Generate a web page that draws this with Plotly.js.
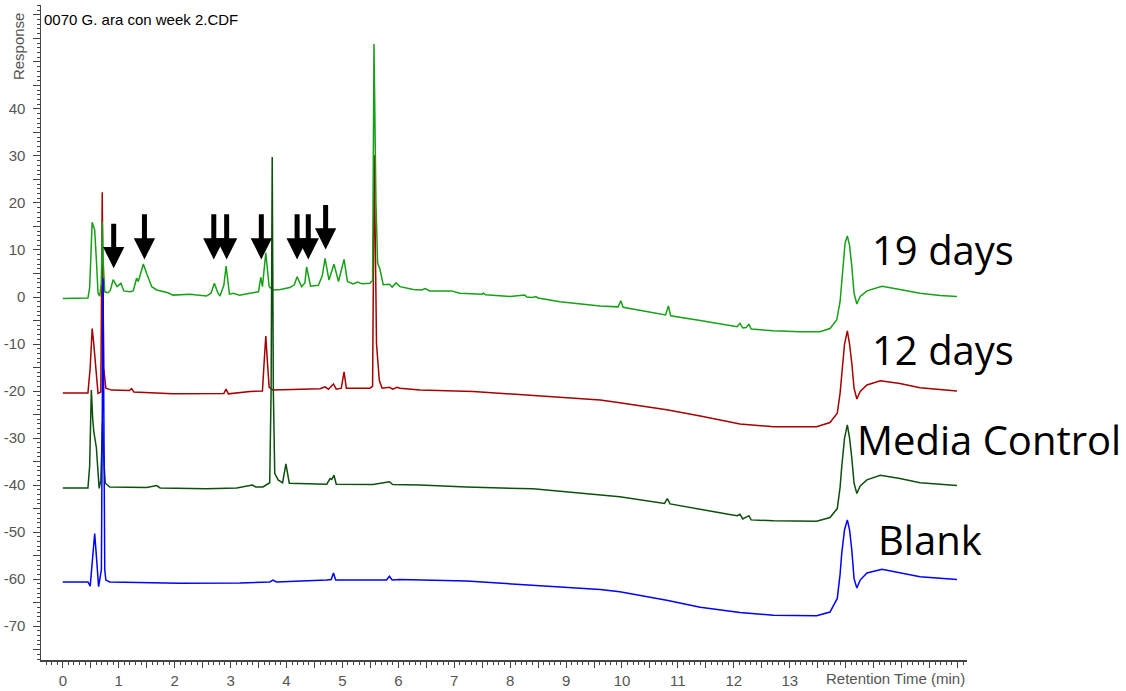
<!DOCTYPE html>
<html>
<head>
<meta charset="utf-8">
<script src="https://cdn.plot.ly/plotly-3.0.1.min.js"></script>
<style>html,body{margin:0;padding:0;background:#fff;}#chart{width:1126px;height:691px;}</style>
</head>
<body>
<div id="chart"></div>
<script>
// ---- Data (retention time in min, response) ----
const tGreen = [0,0.45,0.48,0.51,0.525,0.555,0.57,0.6,0.63,0.66,0.69,0.705,0.72,0.75,0.81,0.85,0.9,0.97,1.04,1.09,1.2,1.26,1.32,1.35,1.44,1.5,1.59,1.68,1.88,1.97,2.27,2.57,2.65,2.71,2.77,2.81,2.88,2.92,2.96,2.98,3.05,3.16,3.35,3.5,3.54,3.57,3.63,3.69,3.76,3.89,4.06,4.14,4.19,4.27,4.33,4.36,4.43,4.57,4.64,4.69,4.76,4.85,4.93,5.03,5.09,5.19,5.27,5.35,5.49,5.54,5.565,5.6,5.63,5.67,5.73,5.84,5.89,5.96,6.03,6.27,6.42,6.48,6.56,6.8,6.95,7.1,7.5,7.52,7.56,8.0,8.26,8.3,8.4,8.46,8.5,8.89,9.49,9.61,9.93,9.98,10.02,10.44,10.78,10.83,10.87,11.4,12.06,12.11,12.16,12.22,12.27,12.31,12.71,13.18,13.54,13.72,13.84,13.9,13.95,13.99,14.03,14.07,14.11,14.15,14.2,14.26,14.38,14.65,14.97,15.33,15.69,15.99];
const vGreen = [-0.3,-0.2,2.0,15.0,15.9,14.8,14.2,8.0,0.8,0.2,3.0,16.0,8.0,1.1,0.9,1.4,3.7,2.2,2.9,1.3,1.1,1.3,4.0,3.3,7.0,5.0,2.2,1.5,0.9,0.4,0.6,0.2,0.8,2.9,1.0,0.2,2.5,6.6,1.5,0.6,0.8,0.4,0.8,1.1,4.2,2.2,9.4,2.2,1.5,1.6,2.0,2.6,4.3,2.2,3.0,6.4,2.3,2.5,4.5,8.2,3.6,7.0,3.3,8.0,3.3,2.8,3.2,2.8,2.9,3.5,53.8,20.0,7.2,6.0,2.6,2.7,2.1,3.0,2.2,1.6,1.5,1.8,1.3,1.3,1.3,0.8,0.6,0.8,0.5,0.1,0.4,0.0,-0.1,0.1,-0.2,-1.0,-1.7,-1.9,-2.1,-0.8,-2.2,-3.1,-3.8,-1.9,-4.0,-5.0,-6.3,-5.6,-6.6,-6.5,-5.8,-6.8,-7.2,-7.4,-7.4,-6.7,-4.9,-1.0,6.0,11.5,13.0,11.0,6.5,0.8,-1.5,0.1,1.3,2.3,1.6,0.8,0.3,0.1];

const tRed = [0,0.45,0.49,0.525,0.55,0.57,0.61,0.63,0.68,0.705,0.73,0.77,0.87,1.19,1.23,1.27,1.97,2.69,2.88,2.92,2.96,3.35,3.57,3.6,3.63,3.66,3.69,3.76,4.24,4.6,4.69,4.75,4.84,4.89,4.98,5.03,5.07,5.49,5.54,5.57,5.61,5.66,5.71,5.84,5.9,5.98,6.03,6.39,7.34,8.53,9.61,9.96,10.8,11.4,12.11,12.71,13.48,13.72,13.85,13.9,13.93,13.98,14.03,14.07,14.11,14.15,14.2,14.26,14.38,14.62,14.97,15.33,15.99];
const vRed = [-20.4,-20.4,-15.0,-6.7,-9.5,-12.7,-18.0,-20.5,-20.2,22.3,-15.0,-19.4,-19.8,-19.9,-19.5,-20.2,-20.6,-20.6,-20.5,-19.6,-20.6,-20.1,-20.0,-14.0,-8.3,-14.0,-19.2,-19.8,-19.6,-19.5,-19.1,-19.6,-18.5,-19.6,-19.4,-15.9,-19.4,-19.4,-19.0,30.2,-10.0,-17.7,-19.4,-19.2,-19.6,-19.2,-19.4,-19.8,-20.1,-21.1,-21.9,-22.5,-24.0,-25.3,-27.0,-27.6,-27.6,-26.7,-24.7,-20.5,-16.2,-10.0,-7.2,-10.0,-14.1,-19.4,-21.7,-20.1,-18.7,-17.8,-18.4,-19.3,-20.0];

const tMedia = [0,0.45,0.48,0.51,0.535,0.555,0.6,0.63,0.65,0.68,0.71,0.74,0.76,0.84,1.5,1.68,1.74,2.57,3.11,3.39,3.45,3.58,3.7,3.725,3.745,3.765,3.79,3.85,3.93,3.99,4.05,4.72,4.78,4.81,4.85,4.89,5.55,5.84,5.9,6.39,7.22,8.41,9.61,9.96,10.76,10.81,10.86,11.4,11.9,12.06,12.11,12.16,12.27,12.31,12.71,13.48,13.72,13.85,13.9,13.93,13.98,14.03,14.07,14.11,14.15,14.2,14.26,14.38,14.62,14.97,15.33,15.99];
const vMedia = [-40.6,-40.6,-36.0,-19.8,-26.0,-28.7,-32.0,-39.0,-40.7,-39.0,-26.7,-36.0,-39.6,-40.4,-40.5,-40.1,-40.6,-40.8,-40.6,-40.0,-40.4,-40.4,-39.5,-20.0,29.8,-20.0,-37.5,-38.9,-39.5,-35.5,-39.6,-39.8,-38.6,-38.8,-37.9,-39.8,-39.9,-39.3,-39.9,-40.0,-40.4,-40.8,-42.1,-42.5,-43.9,-42.9,-44.0,-45.2,-46.2,-46.5,-46.2,-47.2,-46.5,-47.4,-47.6,-47.7,-46.9,-45.0,-40.5,-36.1,-30.0,-27.2,-30.0,-34.3,-39.6,-41.8,-40.2,-38.9,-37.9,-38.6,-39.5,-40.1];

const tBlank = [0,0.45,0.49,0.535,0.57,0.6,0.64,0.69,0.72,0.75,0.77,0.84,2.09,3.17,3.7,3.76,3.82,4.72,4.8,4.84,4.88,5.79,5.84,5.89,6.03,7.22,8.41,9.61,9.96,10.8,11.4,12.11,12.71,13.48,13.72,13.85,13.9,13.93,13.98,14.03,14.07,14.11,14.15,14.2,14.26,14.38,14.65,14.97,15.33,15.99];
const vBlank = [-60.6,-60.6,-61.5,-55.0,-50.3,-55.0,-61.6,-58.0,4.0,-58.0,-60.2,-60.6,-60.9,-60.8,-60.6,-60.2,-60.6,-60.2,-60.1,-58.7,-60.2,-60.2,-59.4,-60.2,-60.1,-60.4,-61.3,-62.2,-62.7,-64.5,-66.0,-67.1,-67.7,-67.8,-67.0,-64.1,-59.0,-54.5,-49.5,-47.4,-49.5,-53.8,-59.9,-61.9,-60.2,-58.7,-57.9,-58.7,-59.5,-60.1];

const seriesNames = ['19 days','12 days','Media Control','Blank'];
const labelT = [14.44, 14.44, 14.16, 14.55];
const labelV = [10.0, -11.2, -30.2, -51.6];

// arrows marking peaks on the 19-day trace
const arrowT = [0.91, 1.46, 2.70, 2.93, 3.55, 4.19, 4.39, 4.70];
const arrowTipV = [6.1, 8.0, 8.0, 8.0, 8.0, 8.0, 8.0, 10.1];
const arrowTopV = [15.9, 17.9, 17.9, 17.9, 17.9, 17.9, 17.9, 19.9];

const xTickVals = [];
const xTickText = [];
for (let k = 0; k <= 32; k++) { const v = k / 2; xTickVals.push(v); xTickText.push((Number.isInteger(v) && v <= 13) ? String(v) : ''); }
const yTickVals = [];
const yTickText = [];
for (let v = -75; v <= 60; v += 5) { yTickVals.push(v); yTickText.push((v % 10 === 0 && v >= -70 && v <= 40) ? String(v) + '\u00a0' : ''); }

const axisFont = {family: 'Liberation Sans, Arial, sans-serif', size: 15, color: '#555'};
const labelFont = {family: 'Open Sans, sans-serif', size: 40, color: '#000'};

function tr(x, y, color) {
  return {x: x, y: y, type: 'scatter', mode: 'lines', line: {color: color, width: 1.5}, hoverinfo: 'skip'};
}
const traces = [
  tr(tRed, vRed, '#a50000'),
  tr(tGreen, vGreen, '#17a017'),
  tr(tMedia, vMedia, '#0d4f0d'),
  tr(tBlank, vBlank, '#0000ff')
];

const annotations = [];
seriesNames.forEach((s, i) => annotations.push({
  text: s, x: labelT[i], y: labelV[i], xref: 'x', yref: 'y', xanchor: 'left', yanchor: 'middle',
  showarrow: false, font: labelFont
}));
arrowT.forEach((t, i) => annotations.push({
  text: '', x: t, y: arrowTipV[i], ax: t, ay: arrowTopV[i], axref: 'x', ayref: 'y', xref: 'x', yref: 'y',
  showarrow: true, arrowhead: 2, arrowsize: 0.85, arrowwidth: 5, arrowcolor: '#000', standoff: 0, startstandoff: 0
}));
annotations.push({text: 'Response', xref: 'paper', yref: 'paper', x: -0.025, y: 0.937, textangle: -90,
  showarrow: false, xanchor: 'center', yanchor: 'middle', font: axisFont});
annotations.push({text: 'Retention Time (min)', xref: 'paper', yref: 'paper', x: 1.0, y: -0.0275,
  showarrow: false, xanchor: 'right', yanchor: 'middle', font: axisFont});

const layout = {
  width: 1126, height: 691,
  margin: {l: 41, r: 159, t: 5, b: 31, pad: 0},
  paper_bgcolor: '#fff', plot_bgcolor: '#fff',
  showlegend: false, hovermode: false,
  title: {text: '0070 G. ara con week 2.CDF', x: 44 / 1126, xanchor: 'left', xref: 'container',
          y: 1 - 20 / 691, yanchor: 'middle', yref: 'container',
          font: {family: 'Liberation Sans, Arial, sans-serif', size: 15, color: '#000'}},
  xaxis: {range: [-0.39, 16.17], showgrid: false, zeroline: false, showline: true, linecolor: '#444', linewidth: 1.5,
          ticks: 'outside', ticklen: 6, tickwidth: 1, tickcolor: '#444', tickmode: 'array', tickvals: xTickVals, ticktext: xTickText,
          tickfont: axisFont,
          minor: {tickmode: 'linear', tick0: 0, dtick: 0.1, ticks: 'outside', ticklen: 3, tickcolor: '#444', showgrid: false}},
  yaxis: {range: [-77.2, 62.1], showgrid: false, zeroline: false, showline: true, linecolor: '#444', linewidth: 1.5,
          ticks: 'outside', ticklen: 7, tickwidth: 1, tickcolor: '#444', tickmode: 'array', tickvals: yTickVals, ticktext: yTickText,
          tickfont: axisFont,
          minor: {tickmode: 'linear', tick0: 0, dtick: 1, ticks: 'outside', ticklen: 3, tickcolor: '#444', showgrid: false}},
  annotations: annotations
};

Plotly.newPlot('chart', traces, layout, {displayModeBar: false, staticPlot: true});
</script>
</body>
</html>
